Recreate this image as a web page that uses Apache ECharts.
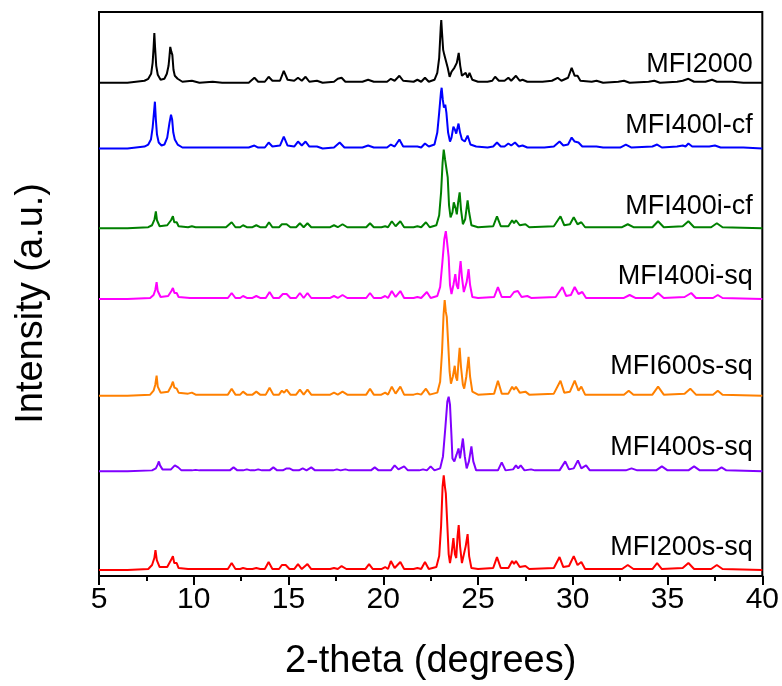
<!DOCTYPE html>
<html>
<head>
<meta charset="utf-8">
<script src="https://cdn.jsdelivr.net/npm/echarts@6/dist/echarts.min.js"></script>
<style>html,body{margin:0;padding:0;background:#fff}#c{width:782px;height:686px}</style>
</head>
<body>
<div id="c"></div>
<script>
// x-axis ticks
const xTicks = [5, 10, 15, 20, 25, 30, 35, 40];
const seriesNames = ['MFI2000', 'MFI400l-cf', 'MFI400i-cf', 'MFI400i-sq', 'MFI600s-sq', 'MFI400s-sq', 'MFI200s-sq'];
const seriesColors = ['#000000', '#0000ff', '#008000', '#ff00ff', '#ff8000', '#8000ff', '#ff0000'];

// [2-theta, stacked intensity (a.u., offset included)]
const mfi2000 = [[5,495],[6.5,495],[7.4,497],[7.6,499],[7.75,504],[7.83,515],[7.88,530],[7.92,545],[7.96,530],[8.02,512],[8.1,503],[8.25,498],[8.45,499],[8.58,504],[8.67,512],[8.72,522],[8.76,531],[8.82,526],[8.87,523],[8.93,508],[9.0,502],[9.08,504],[9.15,499],[9.4,496],[9.9,497],[10.3,495],[11.0,496],[11.5,495],[12.9,495],[13.2,500],[13.4,496],[13.75,496],[13.95,501],[14.15,497],[14.55,497],[14.75,507],[14.95,498],[15.3,497],[15.5,500],[15.7,497],[15.9,501],[16.1,496],[16.5,497],[16.8,495],[17.4,496],[17.6,499],[17.7,497],[17.8,500],[18.0,496],[18.9,496],[19.2,498],[19.5,496],[20.2,496],[20.4,499],[20.6,497],[20.85,502],[21.05,497],[21.6,496],[21.8,498],[22.0,496],[22.2,500],[22.4,496],[22.7,498],[22.85,505],[22.95,520],[23.03,550],[23.06,558],[23.1,545],[23.16,528],[23.22,523],[23.3,522],[23.4,510],[23.5,501],[23.6,506],[23.75,510],[23.88,515],[23.98,525],[24.06,512],[24.15,502],[24.25,500],[24.35,505],[24.45,500],[24.55,505],[24.7,498],[25.0,496],[25.5,496],[25.75,497],[25.9,501],[26.1,497],[26.4,497],[26.6,500],[26.75,497],[27.0,502],[27.2,497],[27.35,498],[27.6,496],[28.4,496],[28.9,497],[29.2,500],[29.4,497],[29.75,500],[29.94,510],[30.1,502],[30.25,502],[30.4,497],[31.0,496],[31.25,497],[31.6,495],[32.4,496],[32.7,497],[33.0,495],[34.0,496],[34.3,497],[34.6,495],[35.5,496],[35.8,497],[36.1,499],[36.4,496],[37.0,496],[37.35,498],[37.6,496],[38.4,496],[39.0,495],[40,495]];

const mfi400lcf = [[5,429],[6.5,429],[7.4,431],[7.6,433],[7.74,438],[7.83,450],[7.9,465],[7.95,476],[8.0,458],[8.06,443],[8.15,435],[8.3,432],[8.45,433],[8.6,440],[8.72,455],[8.8,463],[8.86,458],[8.92,445],[9.0,438],[9.06,440],[9.15,433],[9.4,430],[10,430],[11,430],[12.9,430],[13.2,432],[13.4,430],[13.75,430],[13.95,435],[14.15,431],[14.55,432],[14.75,441],[14.95,432],[15.3,431],[15.5,436],[15.7,432],[15.9,436],[16.1,431],[16.5,431],[16.8,429],[17.4,430],[17.7,435],[17.95,430],[18.9,430],[19.2,432],[19.5,430],[20.2,430],[20.4,433],[20.6,431],[20.85,438],[21.05,431],[21.8,431],[22.0,430],[22.2,434],[22.4,431],[22.7,433],[22.85,445],[22.95,465],[23.04,485],[23.08,490],[23.14,478],[23.2,470],[23.27,473],[23.33,465],[23.42,445],[23.52,436],[23.6,440],[23.7,451],[23.78,448],[23.85,444],[23.92,450],[23.97,454],[24.05,445],[24.15,438],[24.3,436],[24.45,442],[24.6,433],[24.9,431],[25.5,430],[25.8,431],[26.0,435],[26.2,431],[26.4,431],[26.6,434],[26.75,432],[26.95,435],[27.15,431],[27.35,432],[27.6,430],[28.5,430],[29.0,431],[29.3,436],[29.5,432],[29.75,433],[29.94,440],[30.1,436],[30.3,435],[30.5,431],[31.25,431],[31.6,430],[32.5,430],[32.8,433],[33.1,430],[34.2,431],[34.45,433],[34.7,430],[35.5,431],[35.8,432],[35.95,431],[36.1,434],[36.3,431],[37.2,431],[37.5,432],[37.8,430],[39,430],[40,429]];

const mfi400icf = [[5,349],[6.5,349],[7.6,350],[7.8,352],[7.93,358],[8.0,366],[8.06,357],[8.2,351],[8.6,352],[8.8,357],[8.9,361],[8.97,355],[9.05,354],[9.1,355],[9.2,351],[9.7,350],[9.9,351],[10.1,350],[11.7,350],[12.0,355],[12.2,350],[12.45,350],[12.6,352],[12.8,350],[13.1,350],[13.3,352],[13.5,350],[13.8,350],[13.97,355],[14.15,350],[14.5,350],[14.65,353],[14.75,351],[14.9,353],[15.1,350],[15.4,350],[15.6,354],[15.8,350],[16.0,354],[16.2,350],[17.2,350],[17.4,352],[17.6,350],[17.85,353],[18.1,350],[19.1,350],[19.3,354],[19.5,350],[19.9,350],[20.1,351],[20.25,350],[20.45,356],[20.65,351],[20.9,356],[21.1,350],[21.6,350],[21.8,351],[22.0,350],[22.25,355],[22.45,350],[22.8,352],[22.95,362],[23.05,385],[23.13,415],[23.19,428],[23.26,418],[23.33,420],[23.4,400],[23.47,372],[23.55,360],[23.65,365],[23.72,375],[23.77,376],[23.83,368],[23.88,363],[23.95,375],[24.03,385],[24.1,368],[24.2,353],[24.32,358],[24.45,377],[24.53,365],[24.65,352],[25,350],[25.8,351],[26.0,361],[26.2,351],[26.6,351],[26.8,357],[26.9,354],[27.0,357],[27.2,352],[27.5,353],[27.7,350],[29.0,351],[29.35,361],[29.55,352],[29.85,353],[30.05,360],[30.25,353],[30.45,355],[30.65,350],[32.6,350],[32.9,353],[33.2,350],[34.2,350],[34.5,356],[34.8,350],[35.8,351],[36.1,356],[36.4,350],[37.3,350],[37.6,354],[37.9,350],[40,349]];

const mfi400isq = [[5,278],[6.5,278],[7.7,279],[7.88,282],[7.97,287],[8.04,295],[8.1,286],[8.25,280],[8.65,281],[8.82,286],[8.9,289],[8.98,284],[9.05,283],[9.1,284],[9.2,280],[9.8,279],[11.8,279],[12.0,284],[12.2,279],[12.45,279],[12.6,281],[12.8,279],[13.1,279],[13.3,281],[13.5,279],[13.8,279],[14.0,285],[14.2,279],[14.5,279],[14.7,283],[14.8,281],[14.9,283],[15.1,279],[15.4,279],[15.6,284],[15.8,279],[16.0,284],[16.2,279],[17.2,279],[17.4,281],[17.6,279],[17.85,282],[18.1,279],[19.1,279],[19.3,284],[19.5,279],[19.9,279],[20.1,281],[20.25,279],[20.45,286],[20.65,280],[20.9,286],[21.1,279],[21.6,279],[21.8,280],[22.0,279],[22.3,285],[22.5,279],[22.85,281],[23.0,290],[23.12,315],[23.22,338],[23.3,346],[23.35,338],[23.4,336],[23.45,320],[23.52,292],[23.6,283],[23.7,292],[23.8,303],[23.87,292],[23.95,288],[24.02,305],[24.08,316],[24.15,300],[24.25,285],[24.3,283],[24.4,295],[24.5,308],[24.58,292],[24.7,280],[25.0,279],[25.85,280],[26.05,290],[26.25,280],[26.7,280],[26.9,285],[27.0,283],[27.1,286],[27.3,280],[27.6,281],[27.8,279],[29.1,280],[29.45,290],[29.65,281],[29.9,282],[30.1,290],[30.3,283],[30.5,285],[30.7,279],[32.7,279],[33.0,282],[33.3,279],[34.2,279],[34.5,284],[34.8,279],[35.9,280],[36.25,284],[36.5,279],[37.4,279],[37.65,282],[37.9,279],[40,278]];

const mfi600ssq = [[5,181],[6.5,181],[7.7,182],[7.88,186],[7.97,192],[8.04,201],[8.1,190],[8.25,184],[8.65,185],[8.82,191],[8.9,195],[8.98,189],[9.05,187],[9.1,188],[9.2,184],[9.7,183],[9.9,184],[10.1,182],[11.8,182],[12.0,188],[12.2,182],[12.45,182],[12.6,185],[12.8,182],[13.1,182],[13.3,185],[13.5,182],[13.8,182],[14.0,189],[14.2,182],[14.5,182],[14.65,186],[14.77,184],[14.9,187],[15.1,182],[15.4,182],[15.6,187],[15.8,182],[16.0,187],[16.2,182],[17.2,182],[17.4,184],[17.6,182],[17.85,185],[18.1,182],[19.1,182],[19.3,188],[19.5,182],[19.9,182],[20.1,184],[20.25,182],[20.45,190],[20.65,183],[20.9,190],[21.1,182],[21.6,182],[21.8,183],[22.0,182],[22.25,188],[22.45,182],[22.85,184],[23.0,195],[23.1,225],[23.18,262],[23.24,277],[23.3,265],[23.35,260],[23.42,235],[23.5,205],[23.57,193],[23.67,200],[23.77,211],[23.83,200],[23.9,196],[23.97,215],[24.03,229],[24.1,210],[24.2,192],[24.27,188],[24.38,200],[24.5,220],[24.58,200],[24.7,185],[25.0,182],[25.85,183],[26.05,196],[26.25,183],[26.6,183],[26.8,190],[26.9,187],[27.0,190],[27.2,184],[27.5,185],[27.7,182],[29.0,183],[29.35,196],[29.55,184],[29.85,185],[30.1,196],[30.3,186],[30.45,190],[30.65,182],[32.7,182],[32.95,186],[33.2,182],[34.2,182],[34.5,190],[34.8,182],[35.9,183],[36.2,188],[36.5,182],[37.4,182],[37.65,186],[37.9,182],[40,181]];

const mfi400ssq = [[5,105],[6.5,105],[7.8,106],[8.0,108],[8.1,112],[8.16,115],[8.22,111],[8.35,107],[8.8,107],[9.0,111],[9.1,113],[9.18,109],[9.25,108],[9.35,106],[9.9,106],[10.1,106.5],[10.3,106],[11.9,106],[12.1,109],[12.3,106],[12.6,106],[12.8,107],[13.0,106],[13.2,106],[13.4,107],[13.6,106],[14.0,106],[14.2,109],[14.4,106],[14.7,106],[14.9,108],[14.98,107],[15.05,108],[15.25,106],[15.55,106],[15.75,108],[15.95,106],[16.2,109],[16.4,106],[17.35,106],[17.55,107],[17.75,106],[18.0,107],[18.2,106],[19.35,106],[19.55,109],[19.75,106],[20.4,106],[20.6,111],[20.8,107],[21.1,110],[21.3,106],[21.9,106],[22.1,107],[22.3,106],[22.5,110],[22.7,106],[23.0,108],[23.15,120],[23.28,150],[23.38,175],[23.45,180],[23.52,172],[23.6,140],[23.65,118],[23.75,115],[23.87,122],[23.97,128],[24.05,118],[24.1,120],[24.2,138],[24.3,120],[24.4,108],[24.52,115],[24.65,130],[24.75,115],[24.9,106],[25.2,106],[26.05,106],[26.25,114],[26.45,106],[26.85,107],[27.0,111],[27.12,108],[27.25,111],[27.45,106],[27.8,107],[28.0,106],[29.3,106],[29.6,115],[29.8,107],[30.05,108],[30.27,116],[30.45,108],[30.7,111],[30.9,106],[32.8,106],[33.1,108],[33.4,106],[34.4,106],[34.7,110],[35.0,106],[36.1,106],[36.4,110],[36.7,106],[37.6,106],[37.85,109],[38.1,106],[40,105]];

const mfi200ssq = [[5,6],[6.5,6],[7.6,7],[7.8,11],[7.92,18],[7.98,26],[8.05,16],[8.2,9],[8.6,9],[8.8,16],[8.9,20],[8.97,13],[9.05,12],[9.1,13],[9.2,8],[9.7,7],[11.8,7],[12.0,13],[12.2,7],[12.45,7],[12.6,8],[12.8,7],[13.1,7],[13.3,8],[13.5,7],[13.75,7],[13.95,14],[14.15,7],[14.5,7],[14.65,11],[14.75,9],[14.85,11],[15.05,7],[15.3,7],[15.5,12],[15.7,7],[16.0,12],[16.2,7],[17.2,7],[17.4,8],[17.6,7],[17.8,10],[18.05,7],[19.05,7],[19.25,12],[19.45,7],[19.9,7],[20.1,9],[20.25,7],[20.4,15],[20.6,8],[20.9,14],[21.1,7],[21.6,7],[21.8,8],[22.0,7],[22.2,14],[22.4,7],[22.8,9],[22.95,20],[23.05,50],[23.13,90],[23.19,101],[23.25,90],[23.3,83],[23.37,55],[23.45,22],[23.52,13],[23.6,22],[23.7,38],[23.78,22],[23.85,18],[23.92,40],[23.98,51],[24.05,30],[24.15,13],[24.25,14],[24.35,30],[24.45,42],[24.53,20],[24.65,8],[25.0,7],[25.8,8],[26.0,19],[26.2,8],[26.6,8],[26.8,15],[26.9,12],[27.0,15],[27.2,9],[27.5,10],[27.7,7],[29.0,8],[29.3,19],[29.5,9],[29.8,10],[30.05,20],[30.25,11],[30.45,14],[30.65,7],[32.6,7],[32.9,11],[33.2,7],[34.2,7],[34.45,13],[34.7,7],[35.8,8],[36.1,13],[36.4,7],[37.3,7],[37.6,11],[37.9,7],[40,6]];

const allData = [mfi2000, mfi400lcf, mfi400icf, mfi400isq, mfi600ssq, mfi400ssq, mfi200ssq];
// label anchor heights (same units as the y axis)
const labelY = [513, 452, 371, 301, 210, 129, 29];

const FONT = '"Liberation Sans", Arial, sans-serif';
const chart = echarts.init(document.getElementById('c'), null, {renderer: 'canvas'});
const option = {
  animation: false,
  backgroundColor: '#ffffff',
  grid: {left: 99, right: 19, top: 12, bottom: 108, show: true, borderColor: '#000', borderWidth: 2, backgroundColor: 'transparent'},
  xAxis: {
    type: 'value', min: xTicks[0], max: xTicks[xTicks.length - 1], interval: 5,
    name: '2-theta (degrees)', nameLocation: 'middle', nameGap: 86,
    nameTextStyle: {fontFamily: FONT, fontSize: 38, color: '#000', verticalAlign: 'middle'},
    axisLine: {show: true, onZero: false, lineStyle: {color: '#000', width: 2}},
    axisTick: {show: true, inside: false, length: 9, lineStyle: {color: '#000', width: 2}},
    minorTick: {show: true, splitNumber: 2, length: 5, lineStyle: {color: '#000', width: 2}},
    axisLabel: {fontFamily: FONT, fontSize: 30, color: '#000', margin: 9, showMinLabel: true, showMaxLabel: true},
    splitLine: {show: false}
  },
  yAxis: {
    type: 'value', min: 0, max: 566, show: false, splitLine: {show: false}
  },
  series: allData.map((d, i) => ({
    name: seriesNames[i], type: 'line', data: d, showSymbol: false, symbol: 'none',
    lineStyle: {color: seriesColors[i], width: 2}, z: 2,
    markPoint: {
      symbol: 'rect', symbolSize: 0.01, silent: true,
      data: [{coord: [39.5, labelY[i]], label: {show: true, formatter: seriesNames[i], position: 'left', distance: 0,
        fontFamily: FONT, fontSize: 27, color: '#000'}}]
    }
  })),
  graphic: [{
    type: 'text', left: 13, top: 183,
    style: {text: 'Intensity (a.u.)', font: '38px "Liberation Sans", Arial, sans-serif', fill: '#000'},
    rotation: Math.PI / 2, originX: 0, originY: 0
  }]
};
chart.setOption(option);
</script>
</body>
</html>
